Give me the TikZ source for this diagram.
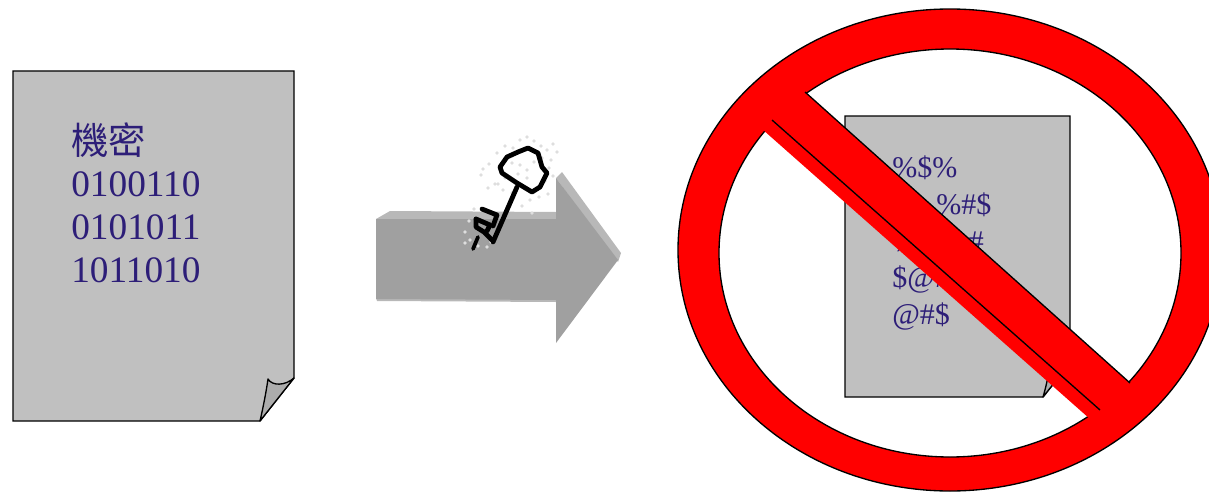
\documentclass[tikz,border=0pt]{standalone}
\usepackage{fontspec}
\setmainfont{Liberation Serif}
\newfontfamily\cjkfont{Noto Sans CJK TC}
\definecolor{pagegray}{RGB}{192, 192, 192}
\definecolor{flapgray}{RGB}{172, 172, 172}
\definecolor{arrowfront}{RGB}{160, 160, 160}
\definecolor{arrowlight}{RGB}{184, 184, 184}
\definecolor{inkblue}{RGB}{45, 30, 120}
\definecolor{speck}{RGB}{222, 222, 222}
\definecolor{signred}{RGB}{255, 0, 0}
\tikzset{
	sheet/.style={draw=black, fill=pagegray, line width=1pt, line join=miter},
	flap/.style={draw=black, fill=flapgray, line width=1pt, line join=round},
	bigtext/.style={inner sep=0pt, anchor=north west, align=left, text=inkblue, font=\fontsize{28}{32.2}\selectfont},
	smalltext/.style={inner sep=0pt, anchor=north west, align=left, text=inkblue, font=\fontsize{22.5}{27.5}\selectfont},
	keyline/.style={draw=black, line width=3.6pt, line join=round, line cap=round},
	signline/.style={draw=black, line width=1pt},
}

\begin{document}
\begin{tikzpicture}[x=0.75pt, y=-0.75pt]
	\useasboundingbox (0,0) rectangle (1209,492);
	\clip (0,0) rectangle (1209,492);
	% left sheet
	\draw[sheet] (13,71) -- (294,71) -- (294,378) -- (260,421) -- (13,421) -- cycle;
	\draw[flap] (260,421) .. controls (263,408) and (266,393) .. (268,379) .. controls (272,386) and (285,386) .. (294,378) -- cycle;
	\node[bigtext] (plain) at (71,122) {{\cjkfont 機密}\\0100110\\0101011\\1011010};
	% arrow
	\fill[arrowlight] (376,219) -- (390,211) -- (556,212) -- (556,222) -- cycle;
	\fill[arrowlight] (556,178) -- (562,172) -- (621,253) -- (618,262) -- cycle;
	\fill[arrowlight] (376,298) -- (556,298) -- (556,302) -- (377,301) -- cycle;
	\fill[arrowfront] (376,219) -- (556,219) -- (556,178) -- (618,260) -- (556,343) -- (556,300) -- (376,299) -- cycle;
	% key
	\foreach \px/\py in {481/175,489/164,497/153,505/146,513/148,520/140,527/137,534/141,541/146,547/150,553/144,557/152,551/160,549/168,553/176,545/181,548/194,539/197,530/200,522/206,512/193,503/190,495/184,488/188,512/163,520/165,527/170,534/162,527/178,518/174,474/209,469/221,465/232,470/240,478/246,465/243,487/247,491/242,498/184,505/178,542/158,483/169,532/213}{
		\fill[speck] (\px,\py) circle (1.8);
	}
	\draw[keyline] (500,167) -- (507,157) -- (518,152) -- (528,148) -- (538,153) -- (542,167) -- (547,173) -- (540,187) -- (532,192) -- (517,183) -- (502,173) -- cycle;
	\draw[keyline] (517,187) -- (493,242);
	\draw[keyline] (482,209) -- (497,215) -- (493,226);
	\draw[keyline] (476,219) -- (490,225) -- (487,231);
	\draw[keyline] (476,219) -- (476,227) -- (484,232) -- (492,240);
	\draw[keyline, line width=2.8pt] (478,237) -- (473,249);
	% right sheet
	\draw[sheet] (845,116) -- (1070,116) -- (1070,363) -- (1043,397) -- (845,397) -- cycle;
	\draw[flap] (1043,397) .. controls (1046,387) and (1048,377) .. (1050,366) .. controls (1054,371) and (1063,370) .. (1070,363) -- cycle;
	\node[smalltext] (cipher) at (892,156) {\%\$\%\\\hspace{33pt}\%\#\$\\\%@\hspace{18pt}\#\\\$@\#\$\\@\#\$};
	% prohibition sign
	\fill[signred, even odd rule] (950,250) ellipse [x radius=272, y radius=241] (950,253) ellipse [x radius=231, y radius=204];
	\draw[signline] (950,250) ellipse [x radius=272, y radius=241];
	\draw[signline] (950,253) ellipse [x radius=231, y radius=204];
	\fill[signred] (795,83) -- (1140,392) -- (1090,419) -- (762,129) -- cycle;
	\draw[signline] (805,92) -- (1130,383);
	\draw[signline] (772,120) -- (1100,410);
\end{tikzpicture}
\end{document}
